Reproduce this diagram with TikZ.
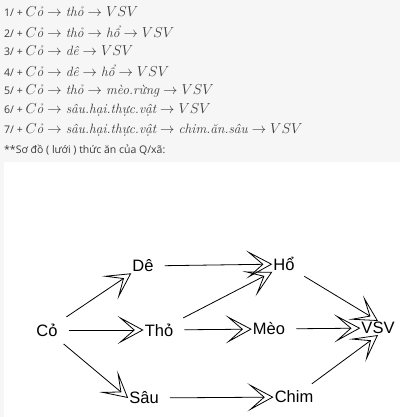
\documentclass[tikz,border=0pt]{standalone}
\usepackage{fontspec}
\usepackage{amsmath}
\usetikzlibrary{arrows.meta,positioning}
\newfontfamily\uifont{Open Sans}
\newfontfamily\netfont{Liberation Sans}
\definecolor{pagegray}{HTML}{F6F6F6}
\definecolor{inkgray}{HTML}{3A3A3A}
\newcommand{\vn}[1]{\text{\rmfamily\itshape #1}}
\newcommand{\chainmath}[1]{{\fontsize{13.5}{16}\selectfont$#1$}}
\tikzset{%
	listline/.style = {anchor=west, inner sep=0pt, font=\uifont\fontsize{10.5}{12}\selectfont, text=inkgray},
	species/.style  = {font=\netfont\fontsize{16.5}{18}\selectfont, inner sep=1pt},
	feeds/.style    = {line width=0.8pt, -{Stealth[open, length=26pt, width=28pt, inset=16pt]}, shorten <=10pt},
}

\begin{document}
\begin{tikzpicture}[x=1pt,y=-1pt]
	\useasboundingbox (0,0) rectangle (400,417);
	\fill[pagegray] (0,0) rectangle (400,417);
	\fill[white] (4,162) rectangle (400,417);
	
	% cac chuoi thuc an
	\node[listline] (l1) at (4,12) {1/ + \chainmath{C\vn{ỏ}\to \vn{thỏ}\to VSV}};
	\node[listline] (l2) at (4,32) {2/ + \chainmath{C\vn{ỏ}\to \vn{thỏ}\to \vn{hổ}\to VSV}};
	\node[listline] (l3) at (4,51) {3/ + \chainmath{C\vn{ỏ}\to \vn{dê}\to VSV}};
	\node[listline] (l4) at (4,71) {4/ + \chainmath{C\vn{ỏ}\to \vn{dê}\to \vn{hổ}\to VSV}};
	\node[listline] (l5) at (4,91) {5/ + \chainmath{C\vn{ỏ}\to \vn{thỏ}\to \vn{mèo.rừng}\to VSV}};
	\node[listline] (l6) at (4,110) {6/ + \chainmath{C\vn{ỏ}\to \vn{sâu.hại.thực.vật}\to VSV}};
	\node[listline] (l7) at (4,130) {7/ + \chainmath{C\vn{ỏ}\to \vn{sâu.hại.thực.vật}\to \vn{chim.ăn.sâu}\to VSV}};
	\node[listline] (l8) at (4,150) {**Sơ đồ ( lưới ) thức ăn của Q/xã:};
	
	% luoi thuc an
	\node[species] (co)   at (47,330)  {Cỏ};
	\node[species] (de)   at (143,266) {Dê};
	\node[species] (ho)   at (284,264) {Hổ};
	\node[species] (tho)  at (159,330) {Thỏ};
	\node[species] (meo)  at (269,329) {Mèo};
	\node[species] (vsv)  at (378,328) {VSV};
	\node[species] (sau)  at (144,398) {Sâu};
	\node[species] (chim) at (294,397) {Chim};
	
	\draw[feeds] (co) -- (de.south west);
	\draw[feeds] (co) -- (tho);
	\draw[feeds] (co) -- (sau.west);
	\draw[feeds] (de) -- (ho);
	\draw[feeds] (tho.north east) -- (ho.south west);
	\draw[feeds] (tho) -- (meo);
	\draw[feeds] (meo) -- (vsv);
	\draw[feeds] (ho) -- (vsv.north);
	\draw[feeds] (sau) -- (chim);
	\draw[feeds] (chim) -- (vsv.south);
\end{tikzpicture}
\end{document}
